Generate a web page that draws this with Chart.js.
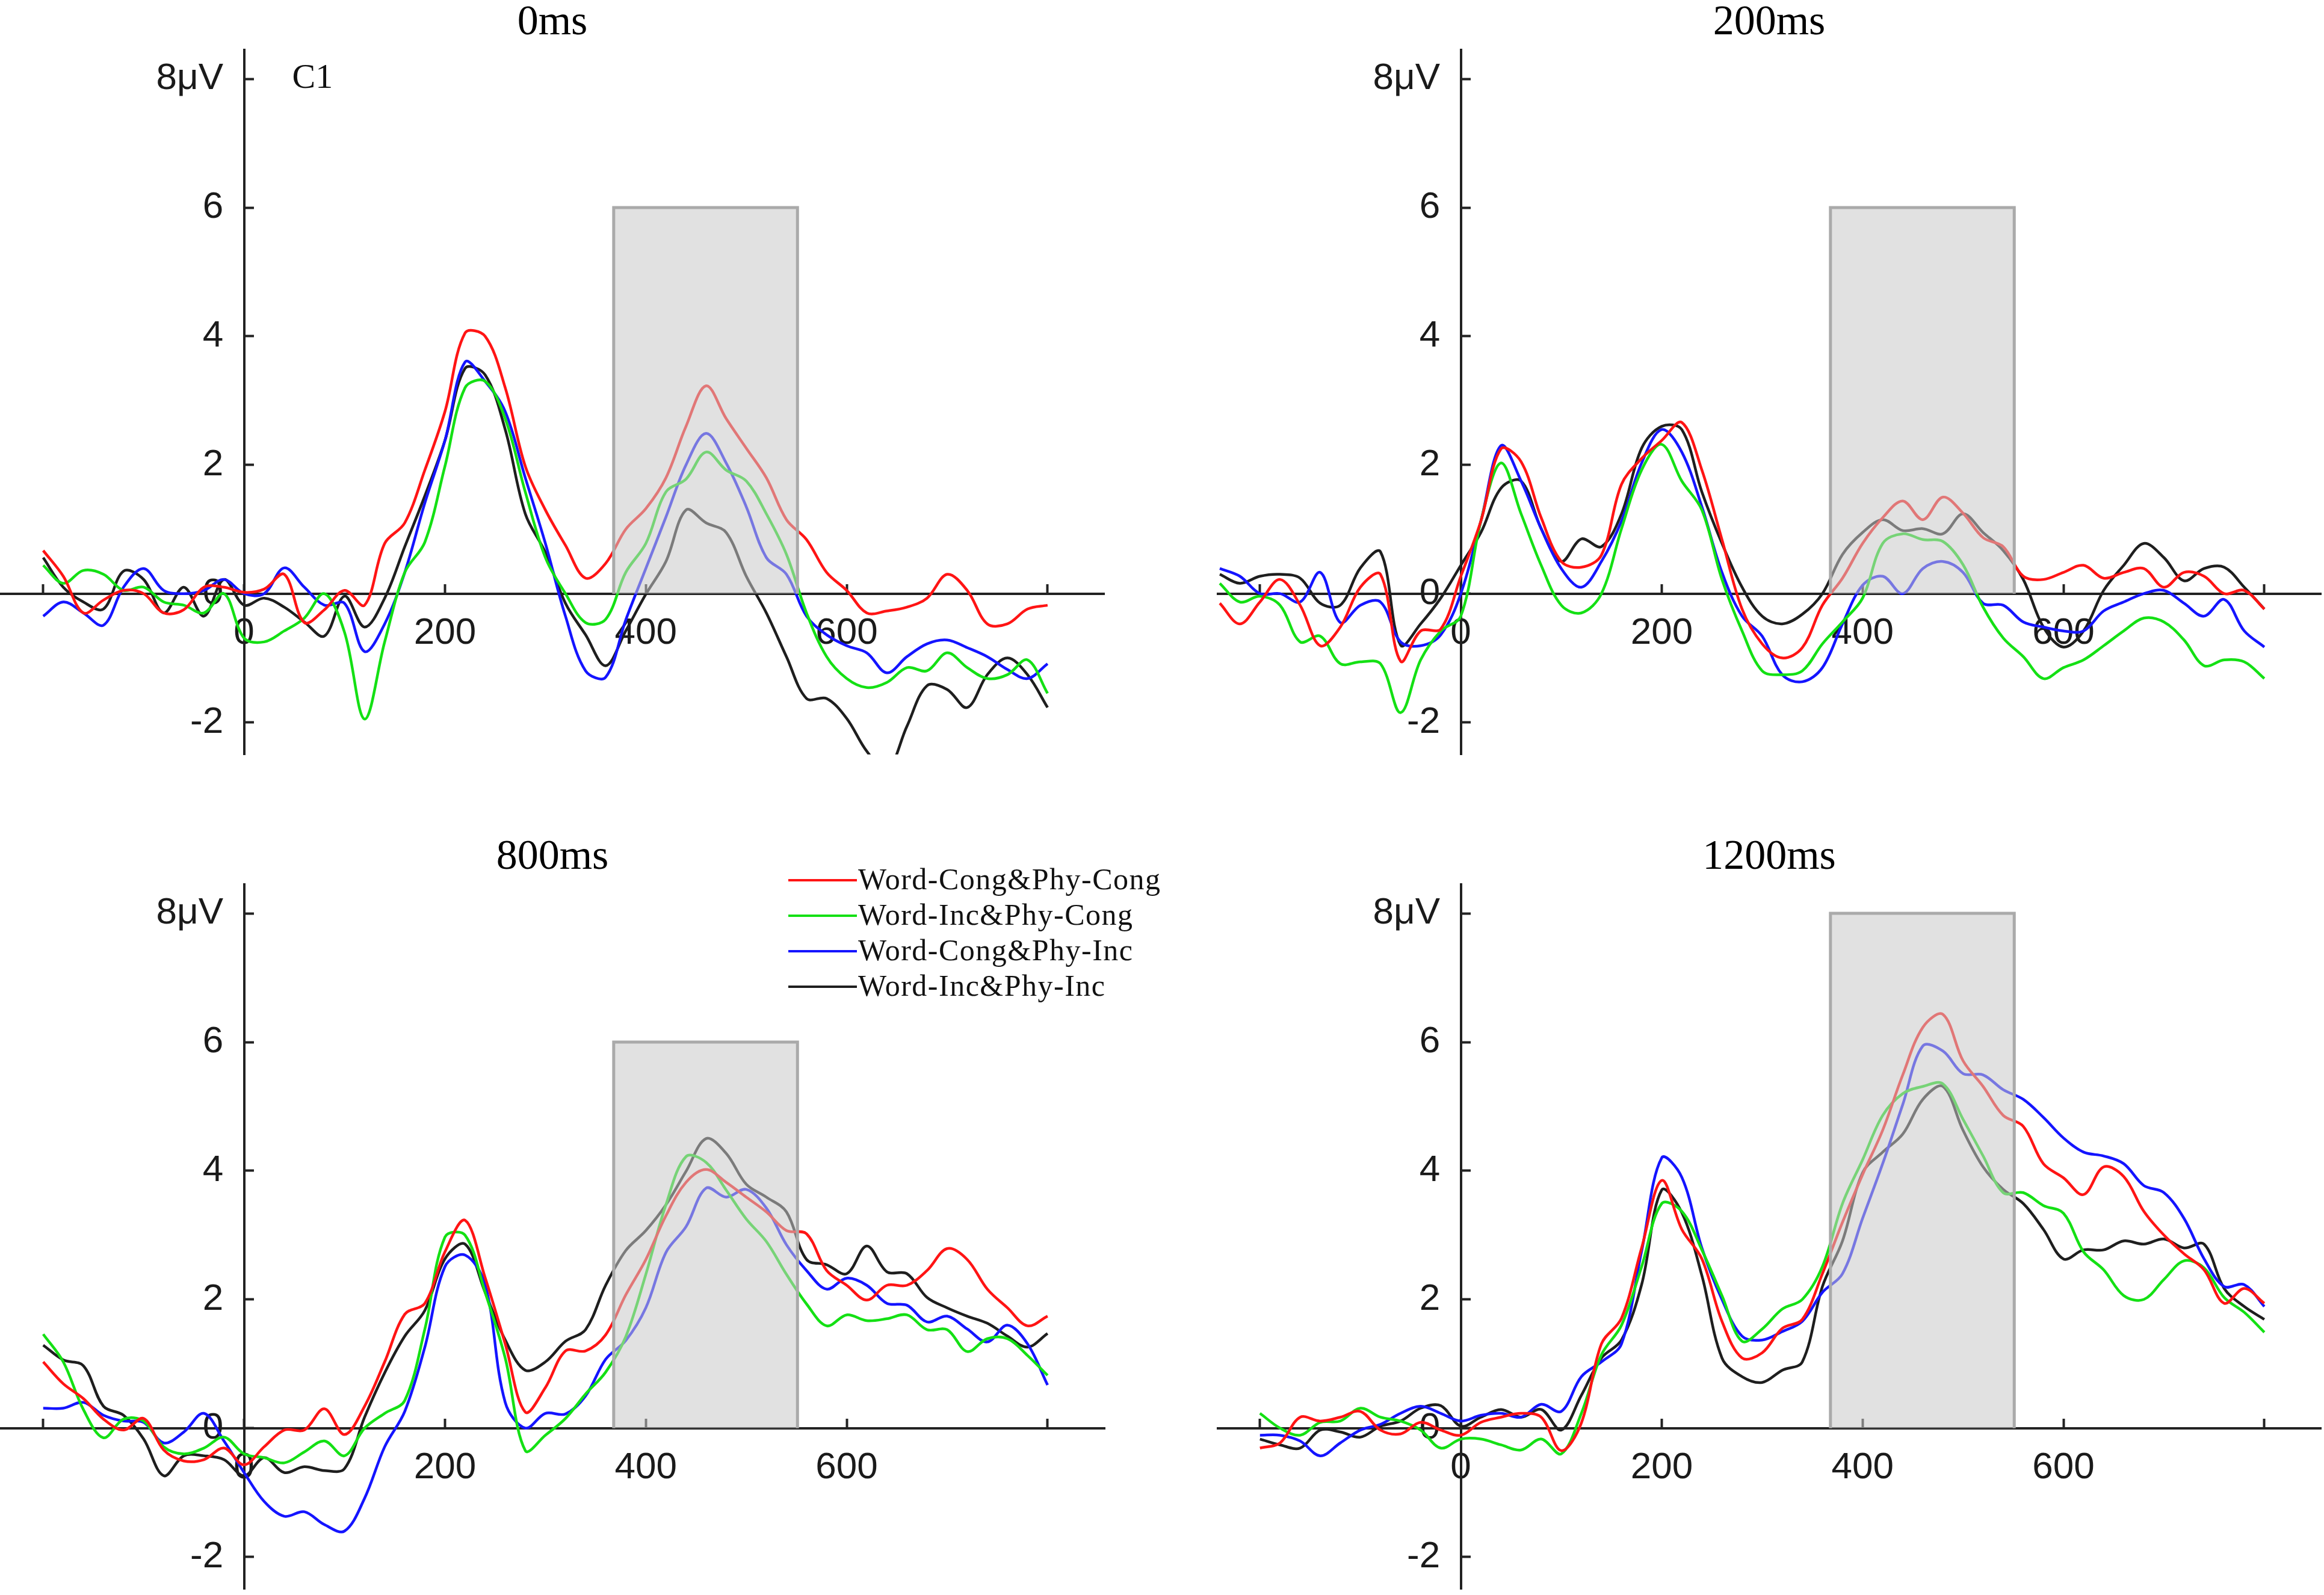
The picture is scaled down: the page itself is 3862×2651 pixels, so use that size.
<!DOCTYPE html>
<html>
<head>
<meta charset="utf-8">
<script src="https://cdn.jsdelivr.net/npm/chart.js@4.4.1/dist/chart.umd.min.js"></script>
<style>
  html, body { margin: 0; padding: 0; background: #fff; overflow: hidden; }
  #wrap { position: relative; width: 3862px; height: 2651px; overflow: hidden; }
  #wrap canvas { position: absolute; }
</style>
</head>
<body>
<div id="wrap"></div>
<script>
// time axis (ms), 20 ms steps
const times = [-240,-220,-200,-180,-160,-140,-120,-100,-80,-60,-40,-20,
  0,20,40,60,80,100,120,140,160,180,200,220,240,260,280,300,320,340,360,380,
  400,420,440,460,480,500,520,540,560,580,600,620,640,660,680,700,720,740,760,780,800];

const seriesNames = ['Word-Cong&Phy-Cong', 'Word-Inc&Phy-Cong', 'Word-Cong&Phy-Inc', 'Word-Inc&Phy-Inc'];
const panelTitles = ['0ms', '200ms', '800ms', '1200ms'];

const xTicks = [-200, 0, 200, 400, 600, 800];
const xTickLabels = ['', '0', '200', '400', '600', ''];
const yTicks = [-2, 0, 2, 4, 6, 8];
const yTickLabels = ['-2', '0', '2', '4', '6', '8μV'];

// analysis window (ms) and its height (μV) per panel
const windowMs = [368, 551];
const windowTop = [6, 6, 6, 8];

// 0ms
const p1Red = [null,null,0.67,0.27,-0.3,-0.1,0.05,0.0,-0.3,-0.25,0.1,0.1,
  0.02,0.07,0.3,-0.45,-0.25,0.05,-0.18,0.78,1.1,1.92,2.83,4.05,4.0,3.2,1.98,1.3,0.75,0.24,0.47,1.0,
  1.32,1.8,2.6,3.23,2.72,2.26,1.8,1.15,0.84,0.33,0.05,-0.3,-0.27,-0.21,-0.07,0.3,0.05,-0.47,-0.47,-0.24,-0.18];
const p1Green = [null,null,0.44,0.16,0.36,0.3,0.05,0.1,-0.13,-0.18,-0.3,0.0,
  -0.69,-0.75,-0.58,-0.38,0.0,-0.6,-1.95,-0.75,0.33,0.8,1.98,3.2,3.3,2.72,1.58,0.56,0.0,-0.45,-0.4,0.33,
  0.78,1.58,1.78,2.2,1.92,1.75,1.24,0.61,-0.3,-0.98,-1.32,-1.46,-1.38,-1.15,-1.2,-0.92,-1.15,-1.32,-1.26,-1.03,-1.55];
const p1Blue = [null,null,-0.35,-0.13,-0.3,-0.49,0.1,0.39,0.05,0.0,0.05,0.22,
  0.0,0.0,0.4,0.1,-0.18,-0.15,-0.9,-0.47,0.33,1.41,2.38,3.6,3.3,2.83,1.8,0.78,-0.35,-1.2,-1.3,-0.41,
  0.39,1.19,2.0,2.49,2.03,1.35,0.56,0.3,-0.35,-0.64,-0.81,-0.92,-1.23,-0.98,-0.78,-0.72,-0.84,-0.98,-1.18,-1.32,-1.09];
const p1Black = [null,null,0.56,0.1,-0.13,-0.24,0.35,0.22,-0.3,0.1,-0.35,0.22,
  -0.18,-0.07,-0.21,-0.44,-0.66,-0.04,-0.52,-0.07,0.73,1.52,2.38,3.5,3.4,2.55,1.24,0.64,-0.15,-0.64,-1.12,-0.58,
  -0.01,0.5,1.3,1.1,0.95,0.27,-0.3,-0.98,-1.63,-1.63,-1.94,-2.45,-2.75,-2.06,-1.43,-1.49,-1.77,-1.26,-1.0,-1.26,-1.77];

// 200ms
const p2Red = [-0.15,-0.47,-0.13,0.22,-0.18,-0.81,-0.52,0.1,0.3,-1.05,-0.58,-0.55,
  0.27,1.13,2.25,2.05,1.18,0.5,0.41,0.6,1.7,2.1,2.38,2.66,1.92,0.84,-0.24,-0.78,-1.0,-0.84,-0.18,0.24,
  0.78,1.18,1.44,1.15,1.5,1.25,0.87,0.73,0.27,0.22,0.33,0.44,0.24,0.33,0.39,0.1,0.33,0.27,0.0,0.05,-0.24];
const p2Green = [0.16,-0.13,-0.04,-0.18,-0.75,-0.66,-1.09,-1.06,-1.09,-1.85,-1.03,-0.58,
  -0.35,1.13,2.03,1.24,0.44,-0.18,-0.3,0.0,1.01,1.92,2.32,1.75,1.3,0.22,-0.58,-1.2,-1.26,-1.2,-0.78,-0.44,
  -0.07,0.78,0.93,0.84,0.81,0.45,-0.21,-0.69,-0.98,-1.32,-1.15,-1.03,-0.81,-0.58,-0.38,-0.44,-0.72,-1.12,-1.03,-1.06,-1.32];
const p2Blue = [0.39,0.27,0.0,0.0,-0.13,0.33,-0.45,-0.18,-0.13,-0.75,-0.81,-0.64,
  0.0,1.13,2.3,1.75,1.01,0.39,0.1,0.5,1.13,2.03,2.55,2.2,1.35,0.33,-0.35,-0.66,-1.26,-1.37,-1.15,-0.47,
  0.13,0.27,0.0,0.39,0.5,0.33,-0.15,-0.18,-0.44,-0.52,-0.58,-0.58,-0.27,-0.13,0.0,0.05,-0.15,-0.35,-0.09,-0.58,-0.83];
const p2Black = [0.3,0.16,0.27,0.3,0.24,-0.15,-0.18,0.4,0.65,-0.8,-0.47,-0.07,
  0.44,0.95,1.64,1.75,1.01,0.5,0.85,0.73,1.24,2.26,2.6,2.55,1.58,0.78,0.1,-0.35,-0.47,-0.32,0.0,0.61,
  0.95,1.15,0.98,1.01,0.93,1.24,0.95,0.67,0.22,-0.52,-0.83,-0.58,0.05,0.44,0.78,0.56,0.2,0.39,0.41,0.1,-0.24];

// 800ms
const p3Red = [null,null,1.03,0.69,0.46,0.14,-0.03,0.15,-0.34,-0.51,-0.49,-0.31,
  -0.57,-0.29,-0.03,-0.03,0.3,-0.1,0.34,1.03,1.77,1.94,2.74,3.23,2.34,1.31,0.25,0.63,1.2,1.2,1.45,2.07,
  2.62,3.3,3.82,4.02,3.82,3.59,3.36,3.07,3.02,2.45,2.22,1.99,2.22,2.22,2.45,2.79,2.62,2.16,1.87,1.59,1.74];
const p3Green = [null,null,1.46,1.03,0.29,-0.15,0.14,0.11,-0.29,-0.4,-0.31,-0.14,
  -0.4,-0.46,-0.54,-0.37,-0.2,-0.43,0.0,0.23,0.43,1.54,2.97,3.0,2.11,1.09,-0.35,-0.11,0.15,0.53,0.87,1.42,
  2.39,3.47,4.22,4.13,3.7,3.25,2.9,2.39,1.93,1.59,1.76,1.67,1.7,1.76,1.53,1.53,1.19,1.39,1.39,1.13,0.82];
const p3Blue = [null,null,0.31,0.31,0.4,0.2,0.11,0.09,-0.23,-0.06,0.23,-0.2,
  -0.69,-1.14,-1.37,-1.3,-1.5,-1.6,-1.09,-0.29,0.26,1.26,2.51,2.69,2.23,0.4,0.0,0.23,0.22,0.5,1.07,1.36,
  1.87,2.73,3.13,3.73,3.59,3.71,3.42,2.85,2.45,2.16,2.33,2.22,1.94,1.91,1.65,1.74,1.54,1.34,1.6,1.31,0.67];
const p3Black = [null,null,1.29,1.06,0.97,0.34,0.2,-0.17,-0.74,-0.43,-0.43,-0.49,
  -0.74,-0.46,-0.69,-0.6,-0.66,-0.63,0.17,0.86,1.43,1.83,2.63,2.86,2.11,1.37,0.9,1.03,1.35,1.53,2.22,2.76,
  3.07,3.47,3.99,4.5,4.27,3.79,3.59,3.36,2.62,2.54,2.4,2.83,2.43,2.4,2.03,1.87,1.74,1.63,1.43,1.26,1.47];

// 1200ms
const p4Red = [null,null,-0.31,-0.23,0.17,0.11,0.17,0.26,-0.03,-0.09,0.09,-0.03,
  -0.11,0.09,0.17,0.23,0.17,-0.35,0.08,1.31,1.71,2.8,3.85,3.09,2.63,1.66,1.09,1.17,1.55,1.69,2.4,3.2,
  3.94,4.63,5.49,6.23,6.43,5.71,5.31,4.86,4.69,4.11,3.89,3.63,4.06,3.91,3.37,3.0,2.71,2.46,1.94,2.17,1.94];
const p4Green = [null,null,0.23,0.0,-0.11,0.09,0.11,0.31,0.17,0.11,-0.03,-0.31,
  -0.17,-0.17,-0.26,-0.34,-0.17,-0.4,0.23,1.14,1.6,2.51,3.49,3.37,2.77,2.06,1.35,1.54,1.85,2.0,2.51,3.49,
  4.17,4.86,5.2,5.31,5.35,4.8,4.23,3.66,3.66,3.46,3.34,2.74,2.46,2.06,2.0,2.31,2.6,2.49,2.03,1.8,1.49];
const p4Blue = [null,null,-0.11,-0.11,-0.2,-0.43,-0.23,-0.03,0.06,0.23,0.34,0.23,
  0.11,0.2,0.23,0.17,0.37,0.26,0.8,1.03,1.31,2.75,4.2,3.9,2.8,2.0,1.43,1.37,1.5,1.66,2.11,2.4,
  3.26,4.11,5.03,5.94,5.86,5.51,5.49,5.26,5.11,4.83,4.51,4.29,4.23,4.11,3.77,3.66,3.26,2.63,2.2,2.23,1.89];
const p4Black = [null,null,-0.17,-0.26,-0.31,-0.03,-0.06,-0.14,0.03,0.11,0.31,0.35,
  0.03,0.17,0.29,0.17,0.29,-0.03,0.51,1.09,1.37,2.23,3.7,3.35,2.37,1.09,0.8,0.71,0.9,1.03,2.2,2.91,
  3.97,4.29,4.57,5.11,5.31,4.63,4.06,3.71,3.49,3.09,2.63,2.77,2.77,2.91,2.86,2.94,2.8,2.86,2.17,1.89,1.69];

const panelSeries = [
  [p1Red, p1Green, p1Blue, p1Black],
  [p2Red, p2Green, p2Blue, p2Black],
  [p3Red, p3Green, p3Blue, p3Black],
  [p4Red, p4Green, p4Blue, p4Black]
];

const colors = ['#ff1414', '#14e014', '#1414ff', '#1e1e1e'];

// page layout (canvas boxes; padRight keeps the plot 1836px wide)
const panelBoxes = [
  { left: 0,    top: 0,    width: 1836, height: 1290, padBottom: 36, padRight: 0 },
  { left: 2022, top: 0,    width: 1836, height: 1290, padBottom: 36, padRight: 0 },
  { left: 0,    top: 1387, width: 1990, height: 1264, padBottom: 10, padRight: 154 },
  { left: 2022, top: 1387, width: 1836, height: 1264, padBottom: 10, padRight: 0 }
];

Chart.defaults.font.family = "'Liberation Sans', Arial, sans-serif";

const erpDecor = {
  id: 'erpDecor',
  afterDatasetsDraw(chart, args, opts) {
    const { ctx, scales: { x, y } } = chart;
    const l = x.getPixelForValue(windowMs[0]);
    const r = x.getPixelForValue(windowMs[1]);
    const t = y.getPixelForValue(opts.top);
    const b = y.getPixelForValue(0);
    ctx.save();
    ctx.fillStyle = 'rgba(200,200,200,0.55)';
    ctx.fillRect(l, t, r - l, b - t);
    ctx.strokeStyle = '#aaaaaa';
    ctx.lineWidth = 5;
    ctx.beginPath();
    ctx.moveTo(l, b); ctx.lineTo(l, t); ctx.lineTo(r, t); ctx.lineTo(r, b);
    ctx.stroke();
    ctx.restore();
  },
  afterDraw(chart, args, opts) {
    const { ctx, scales: { x, y } } = chart;
    ctx.save();
    if (opts.tag) {
      ctx.font = "58px 'Liberation Serif', serif";
      ctx.fillStyle = '#111';
      ctx.textBaseline = 'middle';
      ctx.fillText(opts.tag, x.getPixelForValue(0) + 80, y.getPixelForValue(8));
    }
    if (opts.legend) {
      ctx.font = "50px 'Liberation Serif', serif";
      ctx.letterSpacing = '1.5px';
      ctx.textBaseline = 'middle';
      seriesNames.forEach((name, i) => {
        const ly = 76 + i * 59;
        ctx.strokeStyle = colors[i];
        ctx.lineWidth = 4;
        ctx.beginPath(); ctx.moveTo(1310, ly); ctx.lineTo(1424, ly); ctx.stroke();
        ctx.fillStyle = '#111';
        ctx.fillText(name, 1426, ly + 2);
      });
    }
    ctx.restore();
  }
};

const wrap = document.getElementById('wrap');

panelSeries.forEach((series, p) => {
  const box = panelBoxes[p];
  const canvas = document.createElement('canvas');
  canvas.width = box.width; canvas.height = box.height;
  canvas.style.left = box.left + 'px'; canvas.style.top = box.top + 'px';
  canvas.style.width = box.width + 'px'; canvas.style.height = box.height + 'px';
  wrap.appendChild(canvas);

  new Chart(canvas, {
    type: 'line',
    data: {
      datasets: series.map((vals, i) => ({
        label: seriesNames[i],
        data: times.map((t, k) => ({ x: t, y: vals[k] })),
        borderColor: colors[i],
        borderWidth: 4.5,
        pointRadius: 0,
        tension: 0.35,
        fill: false
      }))
    },
    options: {
      responsive: false,
      animation: false,
      devicePixelRatio: 1,
      layout: { padding: { left: 0, right: box.padRight, top: 0, bottom: box.padBottom } },
      plugins: {
        legend: { display: false },
        tooltip: { enabled: false },
        title: {
          display: true,
          text: panelTitles[p],
          color: '#000',
          font: { family: "'Liberation Serif', serif", size: 70, weight: 'normal', lineHeight: 1.1 },
          padding: { top: 0, bottom: 6 }
        },
        erpDecor: { top: windowTop[p], tag: p === 0 ? 'C1' : '', legend: p === 2 }
      },
      scales: {
        x: {
          type: 'linear',
          min: -243, max: 857,
          position: { y: 0 },
          afterBuildTicks: s => { s.ticks = xTicks.map(v => ({ value: v })); },
          afterFit: s => { s.height = 0; s.paddingLeft = 0; s.paddingRight = 0; },
          ticks: {
            callback: (v, i) => xTickLabels[i],
            autoSkip: false, maxRotation: 0,
            color: '#1a1a1a', font: { size: 62 }, padding: 47
          },
          grid: { drawOnChartArea: false, drawTicks: true, tickLength: -18, tickWidth: 4, tickColor: '#222' },
          border: { display: true, color: '#222', width: 4 }
        },
        y: {
          type: 'linear',
          min: -2.5, max: 8.45,
          position: { x: 0 },
          afterBuildTicks: s => { s.ticks = yTicks.map(v => ({ value: v })); },
          afterFit: s => { s.width = 0; s.paddingTop = 0; s.paddingBottom = 0; },
          ticks: {
            // trailing spaces keep the labels clear of the axis line
            callback: (v, i) => yTickLabels[i] + '  ',
            autoSkip: false,
            color: '#1a1a1a', font: { size: 62 }
          },
          grid: { drawOnChartArea: false, drawTicks: true, tickLength: -18, tickWidth: 4, tickColor: '#222' },
          border: { display: true, color: '#222', width: 4 }
        }
      }
    },
    plugins: [erpDecor]
  });
});
</script>
</body>
</html>
